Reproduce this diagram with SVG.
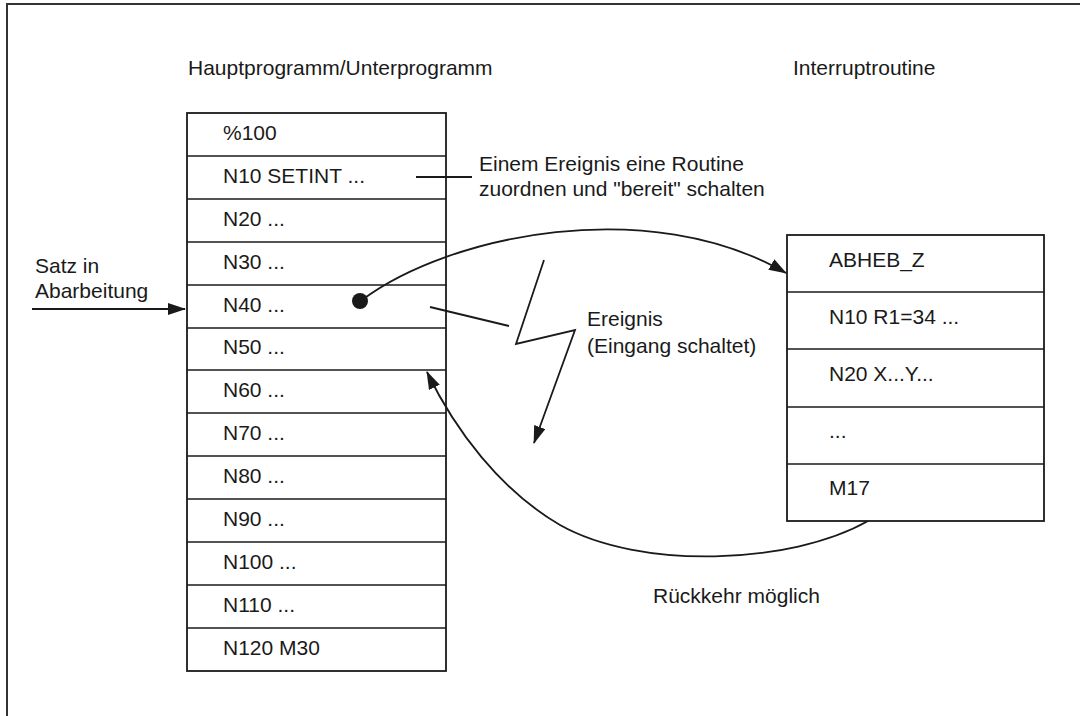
<svg xmlns="http://www.w3.org/2000/svg" width="1080" height="716" viewBox="0 0 1080 716">
<defs>
<style>
text{font-family:"Liberation Sans",Arial,sans-serif;font-size:21px;fill:#1a1a1a}
.box{fill:#fff;stroke:#1a1a1a;stroke-width:1.8}
.sep{stroke:#1a1a1a;stroke-width:1.6}
.ln{fill:none;stroke:#1a1a1a;stroke-width:1.8}
</style>
<marker id="ah" markerWidth="18" markerHeight="12" refX="17" refY="6" orient="auto" markerUnits="userSpaceOnUse">
<path d="M0,0 L18,6 L0,12 Z" fill="#1a1a1a"/>
</marker>
</defs>
<rect width="1080" height="716" fill="#fff"/>
<path d="M7,716 V4 H1080" fill="none" stroke="#333" stroke-width="2"/>

<g id="titles">
<text x="188" y="75">Hauptprogramm/Unterprogramm</text>
<text x="793" y="75">Interruptroutine</text>
</g>

<g id="main-program">
<rect class="box" x="187" y="113" width="259" height="558"/>
<g class="sep">
<line x1="187" y1="156" x2="446" y2="156"/>
<line x1="187" y1="199" x2="446" y2="199"/>
<line x1="187" y1="242" x2="446" y2="242"/>
<line x1="187" y1="285" x2="446" y2="285"/>
<line x1="187" y1="328" x2="446" y2="328"/>
<line x1="187" y1="370" x2="446" y2="370"/>
<line x1="187" y1="413" x2="446" y2="413"/>
<line x1="187" y1="456" x2="446" y2="456"/>
<line x1="187" y1="499" x2="446" y2="499"/>
<line x1="187" y1="542" x2="446" y2="542"/>
<line x1="187" y1="585" x2="446" y2="585"/>
<line x1="187" y1="628" x2="446" y2="628"/>
</g>
<text x="223" y="140">%100</text>
<text x="223" y="183">N10 SETINT ...</text>
<text x="223" y="226">N20 ...</text>
<text x="223" y="269">N30 ...</text>
<text x="223" y="312">N40 ...</text>
<text x="223" y="354">N50 ...</text>
<text x="223" y="397">N60 ...</text>
<text x="223" y="440">N70 ...</text>
<text x="223" y="483">N80 ...</text>
<text x="223" y="526">N90 ...</text>
<text x="223" y="569">N100 ...</text>
<text x="223" y="612">N110 ...</text>
<text x="223" y="655">N120 M30</text>
</g>

<g id="interrupt-routine">
<rect class="box" x="787" y="235" width="257" height="286"/>
<g class="sep">
<line x1="787" y1="292" x2="1044" y2="292"/>
<line x1="787" y1="349" x2="1044" y2="349"/>
<line x1="787" y1="407" x2="1044" y2="407"/>
<line x1="787" y1="464" x2="1044" y2="464"/>
</g>
<text x="829" y="267">ABHEB_Z</text>
<text x="829" y="324">N10 R1=34 ...</text>
<text x="829" y="381">N20 X...Y...</text>
<text x="829" y="438">...</text>
<text x="829" y="495">M17</text>
</g>

<g id="labels">
<text x="35" y="273">Satz in</text>
<text x="35" y="298">Abarbeitung</text>
<text x="479" y="171">Einem Ereignis eine Routine</text>
<text x="479" y="196">zuordnen und "bereit" schalten</text>
<text x="587" y="326">Ereignis</text>
<text x="587" y="353">(Eingang schaltet)</text>
<text x="653" y="603">Rückkehr möglich</text>
</g>

<g id="connectors">
<line class="ln" x1="32" y1="309" x2="185" y2="309" marker-end="url(#ah)"/>
<line class="ln" x1="416" y1="177" x2="472" y2="177"/>
<circle cx="360" cy="301" r="8" fill="#1a1a1a"/>
<path class="ln" d="M362,300 C450,234 650,194 786,273" marker-end="url(#ah)"/>
<line class="ln" x1="430" y1="307" x2="509" y2="326"/>
<polyline class="ln" points="544,260 516,344 575,330 534,443" marker-end="url(#ah)"/>
<path class="ln" d="M868,521 C790,565 640,570 560,525 C500,490 455,430 427,372" marker-end="url(#ah)"/>
</g>
</svg>
